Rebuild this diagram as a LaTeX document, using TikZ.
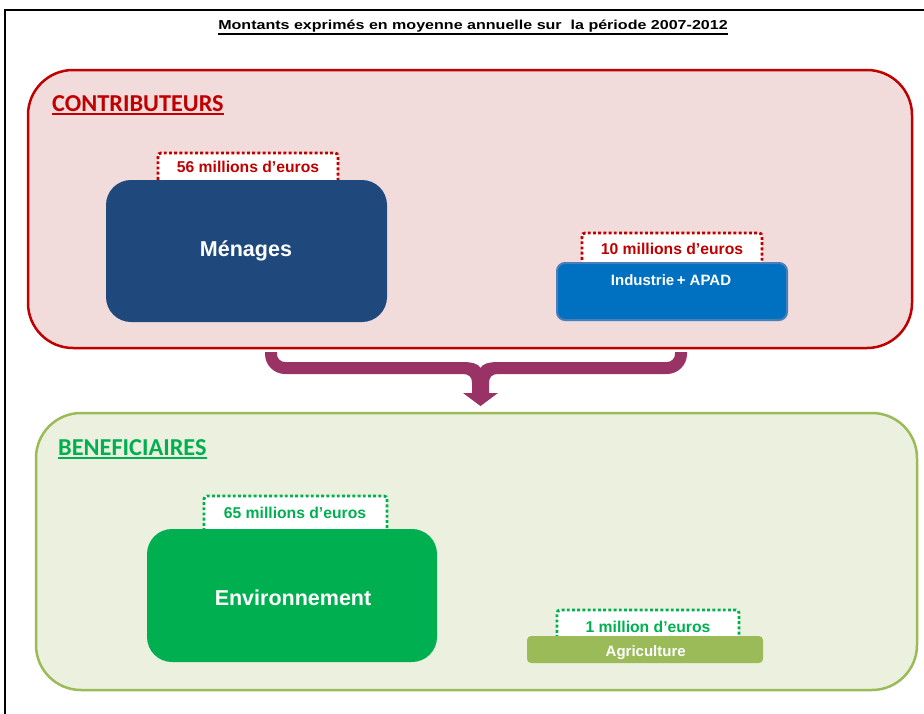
\documentclass[tikz,border=0pt]{standalone}
\usepackage{fontspec}
\setmainfont{Liberation Sans}
\newfontfamily\calib{Carlito}
\definecolor{cred}{HTML}{C00000}
\definecolor{cpink}{HTML}{F2DCDB}
\definecolor{cgreenline}{HTML}{9BBB59}
\definecolor{cgreenfill}{HTML}{EBF1DE}
\definecolor{cnavy}{HTML}{1F497D}
\definecolor{cblue}{HTML}{0070C0}
\definecolor{cblueline}{HTML}{4A7EBB}
\definecolor{cgreen}{HTML}{00B050}
\definecolor{cagri}{HTML}{9BBB59}
\definecolor{cpurple}{HTML}{993366}
\tikzset{
  bigbox/.style={rectangle, rounded corners=45pt, line width=2.5pt, inner sep=0, outer sep=0},
  mainbox/.style={rectangle, inner sep=0, outer sep=0},
  tabbox/.style={rectangle, fill=white, inner sep=0, outer sep=0},
  dotline/.style={line width=2.9pt, dash pattern=on 2.9pt off 2.3pt, rounded corners=3pt},
  tabtxt/.style={font=\bfseries\fontsize{15.7}{18}\selectfont, anchor=base, inner sep=0},
  bigtxt/.style={font=\bfseries\fontsize{21.5}{26}\selectfont, text=white, anchor=base, inner sep=0},
  smalltxt/.style={font=\bfseries\fontsize{15}{18}\selectfont, text=white, anchor=base, inner sep=0},
  secttxt/.style={font=\calib\bfseries\fontsize{24.3}{28}\selectfont, anchor=base west, inner sep=0},
}
\begin{document}
\begin{tikzpicture}[x=1pt,y=-1pt]
\useasboundingbox (0,0) rectangle (924,713);
\fill[white] (0,0) rectangle (924,713);
\begin{scope}
\clip (0,0) rectangle (924,713);
\draw[line width=1.5pt] (5,730) -- (5,10) -- (940,10);
\end{scope}

% title
\node[font=\bfseries\fontsize{13}{15}\selectfont, anchor=base, inner sep=0] (title) at (473,29)
  {\scalebox{1.235}[1]{Montants exprimés en moyenne annuelle sur\ \ la période 2007-2012}};
\draw[line width=1.8pt] ([yshift=-5pt]title.base west) -- ([yshift=-5pt]title.base east);

% contributeurs
\node[bigbox, draw=cred, fill=cpink, minimum width=884pt, minimum height=278pt] (contrib) at (470,209) {};
\node[secttxt, text=cred] (contribL) at (52,111.7) {CONTRIBUTEURS};
\draw[cred, line width=2pt] ([yshift=-2.5pt]contribL.base west) -- ([yshift=-2.5pt]contribL.base east);

\node[tabbox, minimum width=180pt, minimum height=32pt] (tab56) at (248,169) {};
\draw[dotline, cred] (tab56.south west) -- (tab56.north west) -- (tab56.north east) -- (tab56.south east);
\node[tabtxt, text=cred] (t56) at (248,172.7) {56 millions d’euros};
\node[mainbox, fill=cnavy, rounded corners=25pt, minimum width=281pt, minimum height=142pt] (menages) at (246.5,251) {};
\node[bigtxt] (menagesT) at (246,256.7) {Ménages};

\node[tabbox, minimum width=180pt, minimum height=32pt] (tab10) at (672,249) {};
\draw[dotline, cred] (tab10.south west) -- (tab10.north west) -- (tab10.north east) -- (tab10.south east);
\node[tabtxt, text=cred] (t10) at (672,254) {10 millions d’euros};
\node[mainbox, fill=cblue, draw=cblueline, line width=2pt, rounded corners=8pt, minimum width=230pt, minimum height=57pt] (indus) at (672,291.5) {};
\node[smalltxt] (indusT) at (671,285) {Industrie\,+ APAD};

% brace arrow
\fill[cpurple] (265,352) -- (265,354) .. controls (265,365) and (274,374) .. (285,374)
  -- (463,374) .. controls (469,374) and (472,377) .. (472,383) -- (472,393) -- (463,393)
  -- (480.5,406) -- (498,393) -- (489,393) -- (489,383)
  .. controls (489,377) and (492,374) .. (498,374) -- (667,374)
  .. controls (678,374) and (687,365) .. (687,354) -- (687,352) -- (675,352) -- (675,354)
  .. controls (675,358.5) and (671.5,362) .. (667,362) -- (498,362)
  .. controls (489,362) and (482,364) .. (480.5,368)
  .. controls (479,364) and (472,362) .. (463,362) -- (285,362)
  .. controls (280.5,362) and (277,358.5) .. (277,354) -- (277,352) -- cycle;

% beneficiaires
\node[bigbox, draw=cgreenline, fill=cgreenfill, minimum width=881pt, minimum height=277pt] (benef) at (476.5,551.5) {};
\node[secttxt, text=cgreen] (benefL) at (58,455) {BENEFICIAIRES};
\draw[cgreen, line width=2pt] ([yshift=-2.5pt]benefL.base west) -- ([yshift=-2.5pt]benefL.base east);

\node[tabbox, minimum width=183pt, minimum height=35pt] (tab65) at (295.5,513.5) {};
\draw[dotline, cgreen] (tab65.south west) -- (tab65.north west) -- (tab65.north east) -- (tab65.south east);
\node[tabtxt, text=cgreen] (t65) at (295,518) {65 millions d’euros};
\node[mainbox, fill=cgreen, rounded corners=25pt, minimum width=290pt, minimum height=133pt] (env) at (292,595.5) {};
\node[bigtxt] (envT) at (293,605) {Environnement};

\node[tabbox, minimum width=182pt, minimum height=28pt] (tab1) at (648,624) {};
\draw[dotline, cgreen] (tab1.south west) -- (tab1.north west) -- (tab1.north east) -- (tab1.south east);
\node[tabtxt, text=cgreen] (t1) at (648,632) {1 million d’euros};
\node[mainbox, fill=cagri, rounded corners=4pt, minimum width=236pt, minimum height=27pt] (agri) at (645,649.5) {};
\node[smalltxt] (agriT) at (645.7,656.5) {Agriculture};
\end{tikzpicture}
\end{document}
